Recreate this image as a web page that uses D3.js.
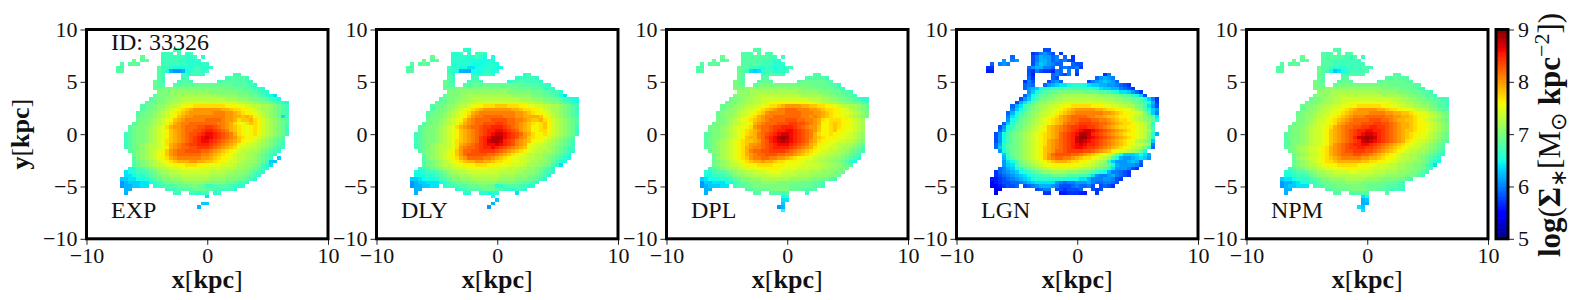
<!DOCTYPE html>
<html>
<head>
<meta charset="utf-8">
<script src="https://cdn.jsdelivr.net/npm/d3@7"></script>
<style>
  body { margin: 0; background: white; }
  text { font-family: "Liberation Serif", serif; fill: #111; }
</style>
</head>
<body>
<div id="chart"></div>
<script>
'use strict'

const panelNames = ["EXP", "DLY", "DPL", "LGN", "NPM"];
const xTicks = [-10, 0, 10];
const yTicks = [-10, -5, 0, 5, 10];
const colorTicks = [5, 6, 7, 8, 9];

// one letter per map cell, log surface density = 5 + index / 10, "." = no stars
const levels = "0123456789abcdefghijklmnopqrstuvwxyzABCD";

const rowsExp = [
"..............hh",
"...........hhh.h.hh",
"......j....hhhhhhggh.g",
"....j.ij...hhhhhggggg",
".i.iji.....hhhhhhgggghg",
"ii........ihhgfffgghhggh",
"ii........ihfcbbcfghhgh",
"..........ih....hhhhhh.......hh",
"..........ih....hh.........hiiiih",
".........jih...hiih......hiiiiiihh",
".........jii..iijjjjjjjjjjjjjiiiihg",
".........jjjkkkkkkkkkkkkkkkjjjjjiihhg",
"..........kkkllllllllllkkkkkkkjjjiihgg",
".........jkkkllmmmmmmmmmmlllllkkkjjihgfe",
"........ijkkllmmnnnnnnnnnnnmmmlllkkjjihgf",
".......ijjkklmmnnooooooooooooonnmmllkkjihgf",
"......ijjkllmnnopqqrrrrrrrrqqqppoonnmmlkjih",
"......ijkklmnopqrstuuuuuuuttsrrqqponmmlkjih",
".....ijkklmnopqrstuuuuuuvvvuutsrqqponmlkjih",
".....ijkklmnopqstuuvvvvvvvvuuttstsqonmlkjeh",
".....jkklmnopqstuvvvvvwwwwvuutrsstrqonmlkji",
"....ijkklmnoprtuvvwwwwwwwvvutrqprsrqonmlkji",
"...ijkklmnoprtuuvwwwxxyyxwvutsrqpqrqonmlkjh",
"...ijkklmnopqstuvwwxxyzzyxwvtsrqpqrponmlkjh",
"..hijkklmnopqstuvwxxyzAAzyxwvtrqpqrqonmlkjh",
"..hijkklmnopqstuvwxyzABAzyxwvusrqqponmlkji",
"..hijkklmnoprstuvwxyzAAzyxwvutsqpponmlkjih",
"..hijklmnnoprtuvwxyyzzzyxwvutsqpoonmmlkjih",
"..hijklmnnopqtuvwwxxyyyxwvutsrpoonnmlkjihh",
"...ijklmnopqsuvwwxxxxwwvutsrqponnmmlkjihg",
"....jklmnopqsuvwwwwwwvvutsrqponnmmlkjihg",
"....iklmnopqrtuvvvvvvuutsrqqponnmmlkjih.d",
"....ijklmnopqrstttuuttssrqqpoonmmllkjhdd",
"....ijklmnnoppqqqrrrqqqpppooonmmllkjhge",
"...fghijklmmnooopppppooooonnnmmllkjihg",
"..efghhijklmmnnoooooooonnnnmmlllkjihg",
"..eefgghijkllmmmnnnnnnnmmmmlllkkjihg",
".ddeeffghijkklllmmmmmmmllllkkkjjihg",
".bcdddeefghijjkkklllllkkkkkjjiihg",
".bccddee.ghhiiijjjkkjjhhiiiihhgg",
"..cc........hhhiiiijjjiihhhhhg",
"..c...........hh..hhghh.gh",
"......................e",
"",
".....................dd",
"....................c"
];

const rowsDly = [
"..............gg",
"...........ggh.g.hhg",
"......j....gggggghgf.f",
"....j.ij...ggggfffffff",
".i.iji.....gggggffffggf",
"ii........hggffeeffgggff",
"ii........hgfcccfffggfg",
"..........hg....ggghhg.......gh",
"..........ih....hh.........ghhhhg",
".........jih...hiih......ghhihhhhg",
".........jii..iijjjjjjjjjjjjiiiiihhg",
".........jjjkkkkkkkkkkkkkkjjjjjiiihhg",
"..........kkkllllllllllllkkkkkkjjjiihhg",
".........jkkkllmmmmmmmmmmmlllllkkjjiihfe",
"........ijkkllmmnnnnnnnnnnnnmmmlllkkjjihgff",
".......ijjkklmmnnooooooooooooonnmmllkkjihgf",
"......ijjkllmnnopqqrrrsssrrrqqppoonnmmlkjih",
"......ijkklmnopqrstuuuuuuuttsrrqqponmmlkjih",
".....ijkklmnopqrtuvvvvvvvvvuutsrqqponmlkjih",
".....ijkklmnopqsuvvwwwwwvvvuuttttsqonmlkjih",
".....jkklmnopqsuvwwwwxxxxwwvvutsstrqonmlkji",
"....ijkklmnoprtuvwwxxxyyxwwvutsrqrsqonmlkji",
"...ijkklmnoprtuvwwxyyzzzyxwvutsqqrsqonmlkjh",
"...ijkklmnopqstuvwxyzzAAzyxwutsqqrrponmlkjh",
"..hijkklmnopqstuvwxyzABBAzyxwutrqqrqonmlkjh",
"..hijkklmnopqstuvwyzACCCAzyxvusrqqponmlkji",
"..hijkklmnoprstuvwyzBCCBzyxvutsqpponmlkjih",
"..hijklmnnoprtuvwxyzAABAzyxvutqpoonmmlkjih",
"..hijklmnnopruvwwxyzzAzyxwvutspoonnmlkjihh",
"...ijklmnopqsuwwxxyyyyxwvutsrqponnmmlkjihg",
"....jklmnopqsuwxxxxxwwvutsrqponnmmllkjihg",
"....iklmnopqrtuwwwwvvutsrqppoonnmmlkjihgf",
"....ijklmnopqrsttuuttsrrqqppoonmmllkjhgf",
"....ijklmnnoppqqqrrrqqqpppooonmmllkjhge",
"...ghijklmmnooopppppooooonnnmmllkjihg",
"..ffghhijklmmnnoooooooonnnnmmlllkjihg",
"..fffgghijkllmmmnnnnnnnmmmmlllkkjihg",
".ddefffghijkklllmmmmmmmllllkkkjjihg",
".bcddeeefghijjkkklllllkkkkkjjiihg",
".bccddee.ghhiiijjjkkjjggiiiihhgg",
"..cc........ghhiiiijjjiiggghhg",
"..c...........gg..ggfgg....e",
".....................f",
"......................d",
".....................c",
"....................b"
];

const rowsDpl = [
"..............ii",
"...........iii.i.ii",
"......j....iiiiiiihh.h",
"....j.ij...iiiiihhhgg",
".i.iji.....iiiiihhhggg",
"ii........jiihhgghgfgghh",
"ii........jihedeghhgggh",
"..........ji....hiiiih.......ii",
"..........ji....ii.........iiiiih",
".........kji...ijji......ijjjjjjii",
".........kjj..jkkkkkkkkkkkkkjjjjjiih",
".........kkkllllllllllllllkkkkkjjjiih",
"..........lllmmmmmmmmmmmmlllllkkkjjjiih",
".........klllmmnnnnnnnnnnnmmmmmllkkjjiih",
"........jkklmmnnoooooooooooonnnmmllkkjjihgg",
".......jkkllmmnnoopqqqqqqqqqpponnmmllkkjjih",
"......jkklmmnnoopqrrstuuuuttssrrqqponnmmlkj",
"......jkllmnoopqrstuvvwwwvvvuutsrrqqponmlkj",
".....jkllmnoopqrsuvvvvwwwwvvvuutsrqqpponmlk",
".....jkllmnopqrtuvvwwwwwwwvvuvutsrqqponmlkj",
".....kklmnopqrstuvwwwwxxxwwvvutrqrrrqqponm",
"....jkklmnoppqtuvwwwxxxyyxxwvutqqrsrqqponm",
"...jkklmnoppqruvwwxyyzzzyxwvuusqqrsrqpponm",
"...jkklmnopqrstuwwxyzzAAzyxwvusqqrsqqpponm",
"..ijkklmnopqrstvwxyzABBAzyxwvtrqqrqqpponml",
"..ijkklmnopqsttvwyzACDCAzyxwvtsrqqqppoonml",
"..ijklmnopqrsstuwxzABCBAzyxwutrqqppoonnmlk",
"..ijklmnopqrsuuvwxyzAAAzyxwvtsqqpponnmmlkj",
"..ijklmnopqrtuvvwxyzzzzyxwvutrqppoonmmlkji",
"...jklmnopqrtvwwxxyyyyxwvutsrqpoonnmmlkjih",
"....jkmnopqrtuvwwxxxwwvvutsrqpoonnmmlkjih",
"....jlmnopqrsuvvwwvvuutsrqqpponnmmllkjihg",
"....jklmnopqrsttuttsrrqqqppoonnmmllkjigf",
"....jklmnnopqqqrrrrqqqppppoooonnmmllkji",
"...hijklmmnoopppqqqqqppppooonnnmmllkkj",
"..gghiijklmmnnoooppppooonnnnmmmlllkkj",
"..ffghhijkllmmnnnnooonnnnmmmmllllkkj",
".defffgghijkklllmmmmmmmlllllkkkjjih",
".bddeeeffhijjkkkllllkkkkkkjjjiih",
".bcdddee.hiijjkkkkkkkkkjjjjjjiih",
"..cc........iijjjjkkkkkjjjiiii",
"..c...........ii..iiihi....h",
".....................fg",
".....................ee",
".....................d",
"....................bc",
".....................f"
];

const rowsLgn = [
"..............88",
"...........78ab98.7",
"......9....8acbb9a.9.7",
"....b.ab...8accb9a9a87",
".9.aba.....8bdcba99..988",
"77........9bccaa9.9a99a7",
"66........87a8776a9.a.8",
"..........86....9a98a.7......7a",
"..........97....98.........9bcba",
".........7a8...8ab9......8abcdcb9",
".........9a9..9bcdeefgggfeddccbba987",
".........9bcdfgghhhiihhhhhgfeddcca987",
"..........bdfhiijjkkkkkkjjjjiihgfeedb97",
".........9cfhijkkllmmmmmmmmllllkkjiigfd8",
"........8bdgikkllmmnnnnnnnnnnmmmllkkjjifda7",
".......8cegikllmmnnooooooooooonnmmllkjihfc7",
"......9cehjklmmnoopqqrrrrrqqqppoonnmmkjheb8",
"......adfhjklmnoopqrstuuuuuttsrrqqppnmkifdb",
".....9cfhjklmnoopqrstuvvvvvvvuutsrqqponkhda",
".....aegijklmnopqrtuvwwwwvvuutssrqqponmlkie",
".....bfhjklmnopqrstuvwwxxxwwvvutsrrqonmlkjf",
"....9dgijklmnopqrstvwwxyyyxxwwvutsrrqponlg",
"...8bfhjklmnopqstuvwxyyzzyyxwvutsrrqqponkh",
"...9cgijklmnopqstuvwxyzABBAzyxwvutsrqponmi",
"..8bfhjklmnopqrstuwxyzACCBzyxwvutsrqqponkgc",
"..8bfhjklmnopqrstuwxyzBDDBAzyxwvutsrqponkg",
"..8bfhjklmnopqrtuvwxyzBCBAzyxwvutsrqpnmljd",
"..9cgijklmnopqrtuvwxyzABAzzyxwvutsrqpoomla",
"..9dgijklmnopqstuvwxyzAAzyyxwvutsrqponmkg9",
"...bfhjklmnopqstuwwxyyyyxxwvutsqpoonmljf",
"....dhjklmnopqsuwxxxxwwvutsrqpomjfdddefec",
"....cgiklmnopqsuvwwvvutsrrqponmifcbbcdedb",
"....befiklmnopqrstttsrrqqponmlgdbbbcdc9",
"....bdehjklmnoppqqqqqqppoonmlkifcbbbba8",
"...9acdfgijklmnooooooonnmmlkjihebbba87",
"..79abcdfghijkllmmmmlllkkjihgfcaa987",
"..789abcdefghhiijjjjiiihhgebaabca987",
".66789abcdefgggggggffffeecaaabba87",
".5678899abcdeeeeeba9aabbbca99aa98",
".5567889.89abcccba8889a99a8.8987",
"..44........89aa.8878889..878",
"..4...........77..6677766..7"
];

const rowsNpm = [
"..............ii",
"...........iii.i.ii",
"......j....iiiiiihhi.h",
"....j.ij...iiihhhhhhh",
".i.iji.....iiihhhhhhhh",
"ii........jiihggghhhhihh",
"ii........jihfdefghhhhi",
"..........ji....hiiiii.......ii",
"..........ji....ii.........iijiii",
".........kji...ijji......ijjjjjjii",
".........kjj..jkkkkkkkkkkkkkjjjjjjii",
".........kkkllllllllllllllkkkkkjjjiih",
"..........lllmmmmmmmmmmmmlllllkkkjjjiih",
".........klllmmnnnnnnnnnnnmmmmmllkkjjiih",
"........jkklmmnnooooooooooooonnmmllkkjjiihh",
".......jkkllmmnnooppppppppppoonnmmllkkjjiih",
"......jkklmmnnooppqqrrrrrrqqppoonnmmllkjiih",
"......jkllmnnoppqrstuuuuuttsrrqqpponnmlkjii",
".....jkllmnnoppqrstuuuuvvvvuuttssrqpponmlkj",
".....jkllmnoopqrstuvvvwwwwwvvuuttsrqqponmlk",
".....kklmnoopqrstuvwwwwxxxwwvuttssrqponmlkj",
"....jkklmnoopqrtuvwwwxxxyyxxwvuttsrqqponmlk",
"...jkklmnoopqrtuvwwxxyyzzyyxwvuttsrqqponmlk",
"...jkklmnoopqstuvwxyzzAAzzyxwvutssrqqponmlk",
"..ijkklmnoopqstuvwxyzABBAzyxwvutsrqqppnmlkj",
"..ijkklmnoopqstuvwxzBCDCBzyxwvutsrqpponmlkj",
"..ijkklmnoopqstuvwxyzBCBAzyxwvutrqpoonmlkji",
"..ijkllmnoopqsuvwxyzzAAzyxwvutsrqpoonmlkji",
"..ijklmnoopqrtuvwxyyzzyyxwvutsrqpoonmmlkji",
"...jklmnoopqrtuvwxxyyyxxwvutsrqponnmmlkjih",
"....jklmnopqrtuvwwwxxwwvutsrqponnmmllkjihg",
"....jlmnoopqrstuvvvvvuuttsrqqponnmmlkjihg",
"....jklmnopqrrsttttttssrrqqpponnmmllkjhgf",
"....jklmnnopqqqrrrrrqqqppooonnmmllkkjige",
"...hijklmmnoopppqqqqpppoooonnnmmllkkjih",
"..gghiijklmmnnooooppoooonnnmmmlllkkjih",
"..ffghhijkllmmnnnnnnnnnnmmmlllllkkjih",
".deefggghijkkllllmmmmmllllkkkkjjih",
".bccdefghhijjkkkkllllkkkkjjjjiih",
".bcddeee.hiijjjkkkkkkkjjjjjiiihh",
"..cc........iijjjjkkkkjjjiiihhhh",
"..c...........ii..iiiii....i",
".....................ef",
".....................cd",
".....................cc",
"....................ed",
".....................e"
];

const panelRows = [rowsExp, rowsDly, rowsDpl, rowsLgn, rowsNpm];

const width = 1578;
const height = 300;
const panelTop = 29.5;
const panelBottom = 238.8;
const panelWidth = 241.5;
const panelStep = 290;
const firstLeft = 86.5;

// map grid, kpc
const cellKpc = 1 / 3;
const gridLeft = -7.53;
const gridTop = 8.2;

// matplotlib jet
const jetR = d3.scaleLinear().domain([0, 0.35, 0.66, 0.89, 1]).range([0, 0, 1, 1, 0.5]).clamp(true);
const jetG = d3.scaleLinear().domain([0, 0.125, 0.375, 0.64, 0.91, 1]).range([0, 0, 1, 1, 0, 0]).clamp(true);
const jetB = d3.scaleLinear().domain([0, 0.11, 0.34, 0.65, 1]).range([0.5, 1, 1, 0, 0]).clamp(true);
const norm = d3.scaleLinear().domain([5, 9]).range([0, 1]);
function jet(v) {
    const t = norm(v);
    return d3.rgb(jetR(t) * 255, jetG(t) * 255, jetB(t) * 255).formatRgb();
}

const svg = d3.select("#chart").append("svg")
    .attr("width", width)
    .attr("height", height)
    .style("display", "block");

const y = d3.scaleLinear().domain([-10, 10]).range([panelBottom, panelTop]);
const tickFmt = d => d < 0 ? "\u2212" + Math.abs(d) : String(d);

panelNames.forEach((name, i) => {
    const left = firstLeft + i * panelStep;
    const x = d3.scaleLinear().domain([-10, 10]).range([left, left + panelWidth]);
    const g = svg.append("g");

    const cells = [];
    panelRows[i].forEach((row, r) => {
        row.split("").forEach((ch, c) => {
            if (ch !== ".") cells.push({ r, c, v: 5 + levels.indexOf(ch) / 10 });
        });
    });

    g.selectAll("rect.cell")
        .data(cells)
        .enter()
        .append("rect")
        .attr("class", "cell")
        .attr("x", d => x(gridLeft + d.c * cellKpc))
        .attr("y", d => y(gridTop - d.r * cellKpc))
        .attr("width", x(cellKpc) - x(0))
        .attr("height", y(0) - y(cellKpc))
        .attr("fill", d => jet(d.v))
        .attr("shape-rendering", "crispEdges");

    const axisL = g.append("g")
        .attr("transform", `translate(${left}, 0)`)
        .call(d3.axisLeft(y).tickValues(yTicks).tickFormat(tickFmt).tickSize(6).tickPadding(3));
    const axisB = g.append("g")
        .attr("transform", `translate(0, ${panelBottom})`)
        .call(d3.axisBottom(x).tickValues(xTicks).tickFormat(tickFmt).tickSize(6).tickPadding(3));
    [axisL, axisB].forEach(a => {
        a.select(".domain").remove();
        a.selectAll("text").style("font-size", "22px").style("font-family", '"Liberation Serif", serif');
        a.selectAll("line").attr("stroke", "#222");
    });

    g.append("rect")
        .attr("x", left)
        .attr("y", panelTop)
        .attr("width", panelWidth)
        .attr("height", panelBottom - panelTop)
        .attr("fill", "none")
        .attr("stroke", "black")
        .attr("stroke-width", 3);

    g.append("text")
        .attr("x", left + 24.5)
        .attr("y", 218)
        .style("font-size", "24px")
        .text(name);

    const xLabel = g.append("text")
        .attr("x", left + panelWidth / 2)
        .attr("y", 288)
        .attr("text-anchor", "middle")
        .style("font-size", "26px");
    xLabel.append("tspan").style("font-weight", "bold").text("x");
    xLabel.append("tspan").text("[");
    xLabel.append("tspan").style("font-weight", "bold").text("kpc");
    xLabel.append("tspan").text("]");
});

svg.append("text")
    .attr("x", firstLeft + 24.5)
    .attr("y", 50)
    .style("font-size", "24px")
    .text("ID: 33326");

const yLabel = svg.append("text")
    .attr("transform", `translate(29, ${(panelTop + panelBottom) / 2}) rotate(-90)`)
    .attr("text-anchor", "middle")
    .style("font-size", "26px");
yLabel.append("tspan").style("font-weight", "bold").text("y");
yLabel.append("tspan").text("[");
yLabel.append("tspan").style("font-weight", "bold").text("kpc");
yLabel.append("tspan").text("]");

// colorbar
const cbLeft = 1496;
const cbWidth = 12;
const cbScale = d3.scaleLinear().domain([5, 9]).range([panelBottom, panelTop]);
const cbSteps = d3.range(0, 256).map(k => 5 + k / 255 * 4);
svg.selectAll("rect.cb")
    .data(cbSteps)
    .enter()
    .append("rect")
    .attr("class", "cb")
    .attr("x", cbLeft)
    .attr("width", cbWidth)
    .attr("y", d => cbScale(d) - 1)
    .attr("height", 1.5)
    .attr("fill", d => jet(d));
const cbAxis = svg.append("g")
    .attr("transform", `translate(${cbLeft + cbWidth}, 0)`)
    .call(d3.axisRight(cbScale).tickValues(colorTicks).tickFormat(d3.format("d")).tickSize(6).tickPadding(4));
cbAxis.select(".domain").remove();
cbAxis.selectAll("text").style("font-size", "22px").style("font-family", '"Liberation Serif", serif');
cbAxis.selectAll("line").attr("stroke", "#222");
svg.append("rect")
    .attr("x", cbLeft)
    .attr("y", panelTop)
    .attr("width", cbWidth)
    .attr("height", panelBottom - panelTop)
    .attr("fill", "none")
    .attr("stroke", "black")
    .attr("stroke-width", 3);

const cbLabel = svg.append("text")
    .attr("transform", `translate(1560, 135) rotate(-90)`)
    .attr("text-anchor", "middle")
    .style("font-size", "31px");
cbLabel.append("tspan").style("font-weight", "bold").text("log");
cbLabel.append("tspan").text("(");
cbLabel.append("tspan").style("font-weight", "bold").text("\u03A3");
cbLabel.append("tspan").attr("dy", 6).style("font-size", "22px").text("\u2217");
cbLabel.append("tspan").attr("dy", -6).text("[");
cbLabel.append("tspan").text("M");
cbLabel.append("tspan").attr("dy", 6).style("font-size", "22px").text("\u2299");
cbLabel.append("tspan").attr("dy", -6).style("font-weight", "bold").text(" kpc");
cbLabel.append("tspan").attr("dy", -11).style("font-size", "22px").text("\u22122");
cbLabel.append("tspan").attr("dy", 11).text("])");
</script>
</body>
</html>
